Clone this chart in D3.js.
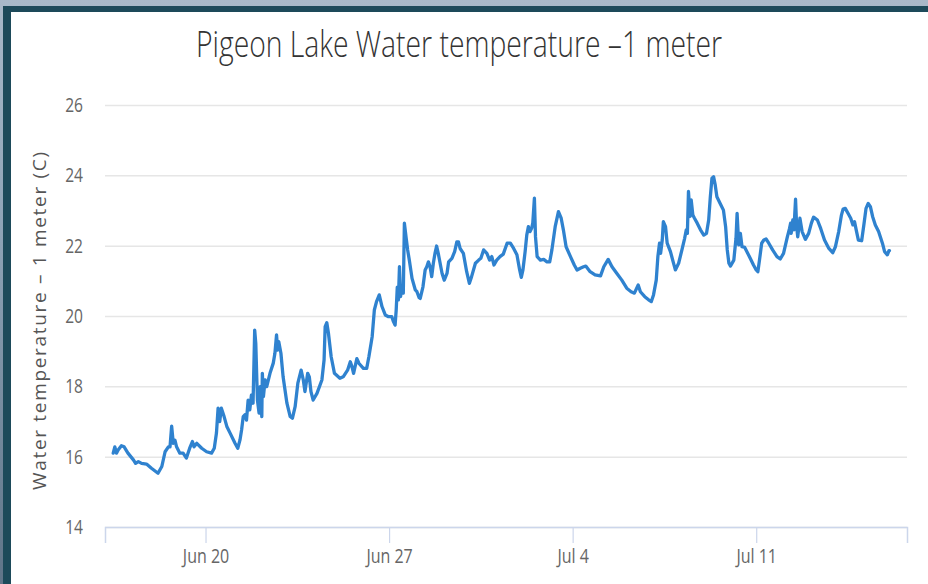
<!DOCTYPE html>
<html>
<head>
<meta charset="utf-8">
<script src="https://cdn.jsdelivr.net/npm/d3@7"></script>
<style>
  html, body { margin: 0; padding: 0; }
  body {
    width: 928px; height: 584px; overflow: hidden;
    background: linear-gradient(180deg, #a9b9c9 0%, #8ea3b6 40%, #5f7488 100%);
  }
  svg { display: block; }
</style>
</head>
<body>
<svg width="928" height="584"></svg>
<script>
// hours since Jun 16 2016 00:00, water temp (C)
var startDate = new Date(2016, 5, 16);
var hours = [
  11.5, 13, 14.5, 16, 19, 21.5, 25, 30, 32, 34.5, 37.5, 42, 46.5, 52.5, 56, 59, 62, 63.5, 65, 66.5,
  68, 69.5, 72.5, 75.5, 78.5, 81.5, 84, 85.5, 88, 92.5, 97, 101.5, 104, 106, 107.5, 109, 110.5, 113, 115.5, 118.5,
  123, 125.5, 127.5, 129, 130.5, 132, 133.5, 135, 136.5, 138, 139.5, 141, 142, 143.5, 145, 146, 147.5, 148, 149, 150.5,
  152, 155, 158, 159.5, 161, 162, 163, 165, 167, 170.5, 173.5, 175.5, 178, 180.5, 183.5, 185.5, 187, 189.5, 191, 192.5,
  194.5, 198, 202.5, 204.5, 205.5, 207, 208.5, 211, 214, 219, 222, 226, 228.5, 230, 231.5, 234.5, 236.5, 240.5, 243.5, 245.5,
  247.5, 248.5, 250.5, 252.5, 255, 257.5, 260.5, 263.5, 266.5, 268, 269.5, 270.5, 271.5, 272.5, 273.5, 274.5, 275.5, 277, 278, 279.5,
  281, 282.5, 285, 288, 289.5, 291.5, 292.5, 295, 297, 298.5, 300, 301.5, 303, 304.5, 306, 307.5, 309, 312.5, 314.5, 317,
  318.5, 321.5, 324, 326, 327.5, 329, 332, 335, 337.5, 339.5, 343, 346, 348, 350.5, 353.5, 356, 358, 360, 362.5, 365.5,
  368.5, 372, 375, 378, 381, 383.5, 385, 386.5, 388.5, 390, 391.5, 393, 394.5, 395.5, 397, 398, 399.5, 402.5, 405.5, 408.5,
  411, 413, 416, 419, 421.5, 423.5, 426, 430, 433.5, 436, 439, 442, 444, 448, 452.5, 457.5, 460.5, 464.5, 468, 472.5,
  477, 481.5, 485.5, 488.5, 492, 494, 498, 501.5, 504, 506, 508.5, 510, 511.5, 512.5, 514, 515, 517, 518.5, 521.5, 524,
  526, 529, 532, 534.5, 536, 537, 538, 539.5, 540.5, 542, 543.5, 546, 549, 552, 554.5, 556.5, 558, 559.5, 561, 562.5,
  564, 567, 570, 572, 573.5, 575, 576.5, 579.5, 581.5, 582.5, 584, 585.5, 587, 589.5, 591.5, 594.5, 597.5, 600, 601.5, 603,
  605, 607, 609, 611.5, 615, 619, 622, 625, 628.5, 630.5, 631.5, 632, 633.5, 634.5, 636, 637, 638, 640, 642, 645,
  648, 650.5, 652.5, 656, 659, 662.5, 666.5, 670, 672.5, 675.5, 678, 679.5, 681.5, 684, 686.5, 688.5, 690, 691.5, 693.5, 696.5,
  698.5, 700.5, 702.5, 704.5, 706.5, 709, 712, 715.5, 717.5, 720, 721.5, 722
];
var temps = [
  16.10, 16.28, 16.10, 16.19, 16.31, 16.28, 16.10, 15.91, 15.81, 15.86, 15.81, 15.79, 15.67, 15.53, 15.72, 16.14, 16.28, 16.28, 16.87, 16.38,
  16.47, 16.28, 16.10, 16.10, 15.96, 16.24, 16.43, 16.28, 16.38, 16.24, 16.14, 16.10, 16.24, 16.67, 17.38, 17.00, 17.38, 17.14, 16.86, 16.67,
  16.38, 16.24, 16.47, 16.76, 17.14, 17.19, 17.04, 17.61, 17.33, 17.75, 17.52, 19.60, 19.22, 17.61, 17.24, 17.99, 17.14, 18.37, 17.71, 18.18,
  17.99, 18.37, 18.66, 18.94, 19.46, 19.03, 19.27, 18.94, 18.27, 17.52, 17.14, 17.09, 17.42, 18.09, 18.46, 18.18, 17.85, 18.37, 18.27, 17.85,
  17.61, 17.80, 18.18, 18.75, 19.70, 19.81, 19.51, 18.84, 18.37, 18.23, 18.27, 18.46, 18.70, 18.56, 18.37, 18.79, 18.65, 18.51, 18.51, 18.84,
  19.22, 19.41, 20.17, 20.41, 20.60, 20.27, 20.03, 19.98, 19.98, 19.84, 19.74, 20.17, 20.82, 20.46, 21.40, 20.55, 20.79, 20.65, 22.64, 22.25,
  21.88, 21.59, 21.07, 20.74, 20.69, 20.52, 20.50, 20.83, 21.31, 21.40, 21.54, 21.40, 21.12, 21.50, 21.78, 21.99, 21.78, 21.21, 21.02, 21.21,
  21.54, 21.64, 21.83, 22.11, 22.11, 21.92, 21.78, 21.26, 20.93, 21.12, 21.50, 21.59, 21.64, 21.88, 21.78, 21.59, 21.69, 21.45, 21.59, 21.69,
  21.76, 22.07, 22.07, 21.92, 21.74, 21.31, 21.10, 21.31, 21.83, 22.30, 22.54, 22.40, 22.50, 22.64, 23.35, 22.25, 21.69, 21.59, 21.61, 21.54,
  21.54, 21.88, 22.54, 22.97, 22.78, 22.45, 21.97, 21.69, 21.45, 21.31, 21.36, 21.40, 21.42, 21.26, 21.17, 21.14, 21.40, 21.61, 21.40, 21.21,
  21.02, 20.79, 20.69, 20.65, 20.88, 20.69, 20.55, 20.46, 20.41, 20.60, 21.02, 21.69, 22.07, 21.78, 22.16, 22.68, 22.54, 22.07, 21.83, 21.54,
  21.31, 21.50, 21.88, 22.21, 22.45, 22.35, 23.54, 22.83, 23.30, 22.87, 22.78, 22.64, 22.45, 22.30, 22.35, 22.73, 23.39, 23.92, 23.96, 23.72,
  23.39, 23.20, 23.01, 22.54, 21.88, 21.50, 21.42, 21.59, 22.21, 22.92, 22.02, 22.35, 21.97, 21.95, 21.83, 21.64, 21.45, 21.31, 21.26, 21.59,
  22.07, 22.16, 22.19, 22.07, 21.88, 21.69, 21.62, 21.78, 22.25, 22.49, 22.64, 22.35, 22.73, 22.45, 23.32, 22.54, 22.25, 22.78, 22.40, 22.18,
  22.35, 22.64, 22.81, 22.73, 22.49, 22.16, 21.92, 21.80, 21.97, 22.40, 22.87, 23.04, 23.06, 22.92, 22.78, 22.59, 22.68, 22.45, 22.16, 22.14,
  22.59, 23.06, 23.20, 23.11, 22.83, 22.59, 22.40, 22.07, 21.83, 21.74, 21.86, 21.86
];
var yTicks = [14, 16, 18, 20, 22, 24, 26];
var xTicks = ["2016-06-20", "2016-06-27", "2016-07-04", "2016-07-11"];
var titleText = "Pigeon Lake Water temperature \u20131 meter";
var yTitleText = "Water temperature \u2013 1 meter (C)";

var parseDay = d3.timeParse("%Y-%m-%d");
var fmt = d3.timeFormat("%b %-d");

var data = hours.map(function(h, i) {
  return { t: new Date(startDate.getTime() + h * 3600e3), v: temps[i] };
});

var svg = d3.select("svg");

// dark frame + white panel
svg.append("rect").attr("x", 3).attr("y", 6).attr("width", 930).attr("height", 590).attr("fill", "#1d4a5a");
svg.append("rect").attr("x", 11).attr("y", 12).attr("width", 920).attr("height", 580).attr("fill", "#ffffff");

var plot = {left: 105, right: 907, top: 105, bottom: 527};

var x = d3.scaleTime()
    .domain([new Date(startDate.getTime() + 4 * 3600e3), new Date(startDate.getTime() + 738 * 3600e3)])
    .range([plot.left, plot.right]);
var y = d3.scaleLinear().domain([14, 26]).range([plot.bottom, plot.top]);

// no condensed face installed, so squeeze a plain one
var narrow = "'Open Sans', 'Liberation Sans', sans-serif";

// grid lines
svg.append("g")
    .attr("transform", "translate(" + plot.left + ",0)")
    .call(d3.axisLeft(y).tickValues(yTicks).tickSize(-(plot.right - plot.left)).tickFormat(""))
    .call(function(g) {
      g.select(".domain").remove();
      g.selectAll("line").attr("stroke", "#e6e6e6").attr("stroke-width", 1.5);
    });

// y labels
svg.append("g")
    .selectAll("text")
    .data(yTicks)
    .join("text")
    .attr("transform", function(d) { return "translate(83," + y(d) + ") scale(0.78,1)"; })
    .attr("dy", "0.35em")
    .attr("text-anchor", "end")
    .attr("fill", "#666")
    .style("font-family", narrow)
    .style("font-size", "20px")
    .text(function(d) { return d; });

// x axis
var xAxis = svg.append("g")
    .attr("transform", "translate(0," + plot.bottom + ")")
    .call(d3.axisBottom(x).tickValues(xTicks.map(parseDay)).tickSize(16).tickPadding(6).tickFormat(fmt));
xAxis.select(".domain").attr("stroke", "#ccd6eb").attr("stroke-width", 1.5);
xAxis.selectAll(".tick line").attr("stroke", "#ccd6eb").attr("stroke-width", 1.2);
xAxis.selectAll(".tick text")
    .attr("fill", "#666")
    .attr("transform", "scale(0.8,1)")
    .style("font-family", narrow)
    .style("font-size", "20px");

// the series
var line = d3.line()
    .x(function(d) { return x(d.t); })
    .y(function(d) { return y(d.v); });

svg.append("path")
    .datum(data)
    .attr("fill", "none")
    .attr("stroke", "#2f82cf")
    .attr("stroke-width", 3.3)
    .attr("stroke-linejoin", "round")
    .attr("stroke-linecap", "round")
    .attr("d", line);

// title
svg.append("text")
    .attr("x", 196)
    .attr("y", 57)
    .attr("textLength", 526)
    .attr("lengthAdjust", "spacingAndGlyphs")
    .attr("fill", "#333")
    .style("font-family", narrow)
    .style("font-weight", 300)
    .style("font-size", "36px")
    .text(titleText);

// y axis title
svg.append("text")
    .attr("transform", "translate(46,490) rotate(-90)")
    .attr("textLength", 338)
    .attr("lengthAdjust", "spacing")
    .attr("fill", "#555")
    .style("font-family", narrow)
    .style("font-size", "19px")
    .text(yTitleText);
</script>
</body>
</html>
